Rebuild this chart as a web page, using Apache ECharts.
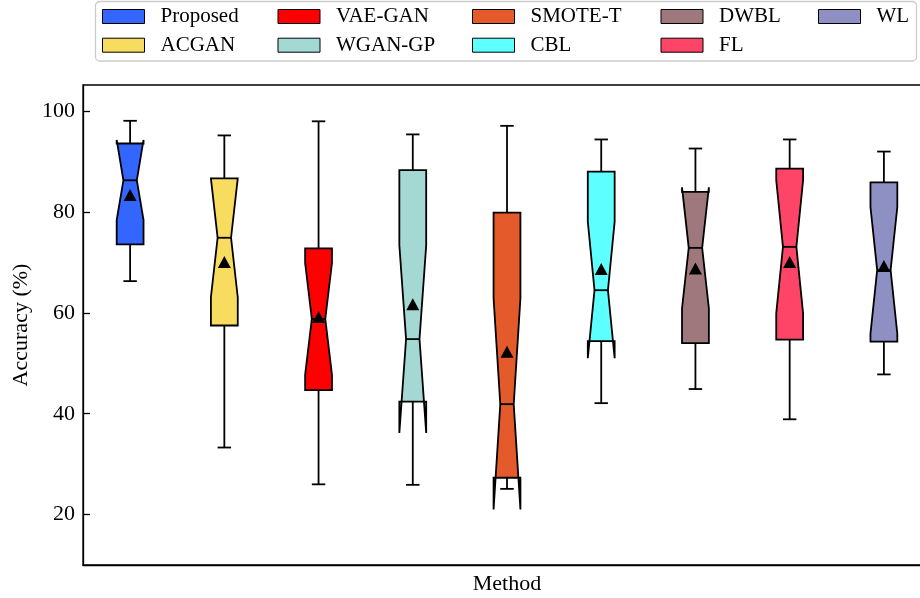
<!DOCTYPE html>
<html>
<head>
<meta charset="utf-8">
<script src="https://cdn.jsdelivr.net/npm/echarts@6/dist/echarts.min.js"></script>
<style>
html,body{margin:0;padding:0;background:#fff;}
#chart{width:920px;height:598px;}
</style>
</head>
<body>
<div id="chart"></div>
<script>
// ---- data ----
const methods = ['Proposed','ACGAN','VAE-GAN','WGAN-GP','SMOTE-T','CBL','DWBL','FL','WL'];
const whiskerLow  = [66.3, 33.3, 26.0, 25.9, 25.1, 42.1, 44.9, 38.9, 47.8];
const q1          = [73.6, 57.5, 44.7, 42.4, 27.3, 54.4, 54.0, 54.7, 54.3];
const notchLow    = [78.4, 63.1, 47.7, 36.2, 21.0, 51.0, 60.9, 59.9, 55.9];
const median      = [86.3, 74.9, 58.8, 54.8, 41.9, 64.5, 72.9, 73.1, 68.5];
const notchHigh   = [94.3, 86.7, 69.9, 73.4, 62.9, 78.1, 84.9, 86.3, 81.0];
const q3          = [93.6, 86.7, 72.8, 88.3, 79.9, 88.0, 84.0, 88.6, 85.9];
const whiskerHigh = [98.1, 95.2, 98.0, 95.4, 97.1, 94.4, 92.6, 94.4, 92.0];
const means       = [83.4, 70.1, 59.2, 61.7, 52.3, 68.7, 68.8, 70.1, 69.3];
const yTicks = [20, 40, 60, 80, 100];
const colors = ['#3366ff','#f7dc5f','#ff0000','#a3d9d2','#e55a2a','#5effff','#9e787c','#ff4567','#8e8fc2'];
const legendColumns = [['Proposed','ACGAN'],['VAE-GAN','WGAN-GP'],['SMOTE-T','CBL'],['DWBL','FL'],['WL']];

const FONT = '"Liberation Serif","DejaVu Serif",serif';
const BOX_HALF = 0.1425;
const CAP_HALF = 0.0713;
const LW = 1.8;

function makeRender(color) {
  return function (params, api) {
    const x = api.value(0);
    const wl = api.value(1), b1 = api.value(2), nl = api.value(3), md = api.value(4),
          nh = api.value(5), b3 = api.value(6), wh = api.value(7);
    const P = (a, b) => api.coord([a, b]);
    const L = x - BOX_HALF, R = x + BOX_HALF;
    const lineStyle = { stroke: '#000', lineWidth: LW, fill: null };
    const seg = (p, q) => ({ type: 'line', shape: { x1: p[0], y1: p[1], x2: q[0], y2: q[1] }, style: lineStyle });
    const pts = [
      P(L, b1), P(R, b1), P(R, nl), P(x + CAP_HALF, md), P(R, nh), P(R, b3),
      P(L, b3), P(L, nh), P(x - CAP_HALF, md), P(L, nl)
    ];
    return {
      type: 'group',
      children: [
        seg(P(x, b1), P(x, wl)),
        seg(P(x, b3), P(x, wh)),
        seg(P(x - CAP_HALF, wl), P(x + CAP_HALF, wl)),
        seg(P(x - CAP_HALF, wh), P(x + CAP_HALF, wh)),
        { type: 'polygon', shape: { points: pts }, style: { fill: color, stroke: '#000', lineWidth: LW, lineJoin: 'miter' } },
        seg(P(x - CAP_HALF, md), P(x + CAP_HALF, md))
      ]
    };
  };
}

const series = methods.map((m, i) => ({
  name: m,
  type: 'custom',
  renderItem: makeRender(colors[i]),
  itemStyle: { color: colors[i], borderColor: '#000', borderWidth: 1 },
  encode: { x: 0, y: [1,2,3,4,5,6,7] },
  data: [[i + 1, whiskerLow[i], q1[i], notchLow[i], median[i], notchHigh[i], q3[i], whiskerHigh[i]]],
  z: 2
}));
series.push({
  name: 'mean',
  type: 'scatter',
  symbol: 'triangle',
  symbolSize: [13, 12],
  itemStyle: { color: '#000', opacity: 1 },
  data: means.map((v, i) => [i + 1, v]),
  z: 5
});

const legendLefts = [102, 277.5, 472, 660.5, 818];
const legends = legendColumns.map((col, c) => ({
  orient: 'vertical',
  left: legendLefts[c],
  top: 6,
  padding: 0,
  itemGap: 7.7,
  itemWidth: 42,
  itemHeight: 14,
  selectedMode: false,
  textStyle: { fontFamily: FONT, fontSize: 21, color: '#000', lineHeight: 21, padding: [0, 0, 0, 11] },
  data: col.map(n => ({ name: n, icon: 'rect', itemStyle: { color: colors[methods.indexOf(n)], borderColor: '#000', borderWidth: 1 } }))
}));

const chart = echarts.init(document.getElementById('chart'), null, { renderer: 'canvas' });
chart.setOption({
  backgroundColor: '#fff',
  animation: false,
  graphic: [{
    type: 'rect',
    shape: { x: 95.5, y: 1.5, width: 821, height: 59.5, r: 4 },
    style: { fill: '#fff', stroke: '#cccccc', lineWidth: 1.3 },
    z: -1
  }],
  legend: legends,
  grid: { left: 83, top: 85, width: 848, height: 480, show: true, borderColor: '#000', borderWidth: 1.3, containLabel: false, outerBoundsMode: 'none' },
  xAxis: {
    type: 'value', min: 0.5, max: 9.5,
    name: 'Method', nameLocation: 'middle', nameGap: 8, nameMoveOverlap: false,
    nameTextStyle: { fontFamily: FONT, fontSize: 22, color: '#000', verticalAlign: 'top' },
    axisLine: { show: true, lineStyle: { color: '#000', width: 1.3 } },
    axisTick: { show: false }, axisLabel: { show: false }, splitLine: { show: false }
  },
  yAxis: {
    type: 'value', min: 10, max: 105.2,
    name: 'Accuracy (%)', nameLocation: 'middle', nameGap: 51, nameMoveOverlap: false,
    nameTextStyle: { fontFamily: FONT, fontSize: 22, color: '#000' },
    axisLine: { show: true, lineStyle: { color: '#000', width: 1.3 } },
    axisTick: { show: true, length: 7, inside: true, customValues: yTicks, lineStyle: { color: '#000', width: 1.3 } },
    axisLabel: { customValues: yTicks, margin: 8, fontFamily: FONT, fontSize: 22, color: '#000' },
    splitLine: { show: false }
  },
  series: series
});
</script>
</body>
</html>
